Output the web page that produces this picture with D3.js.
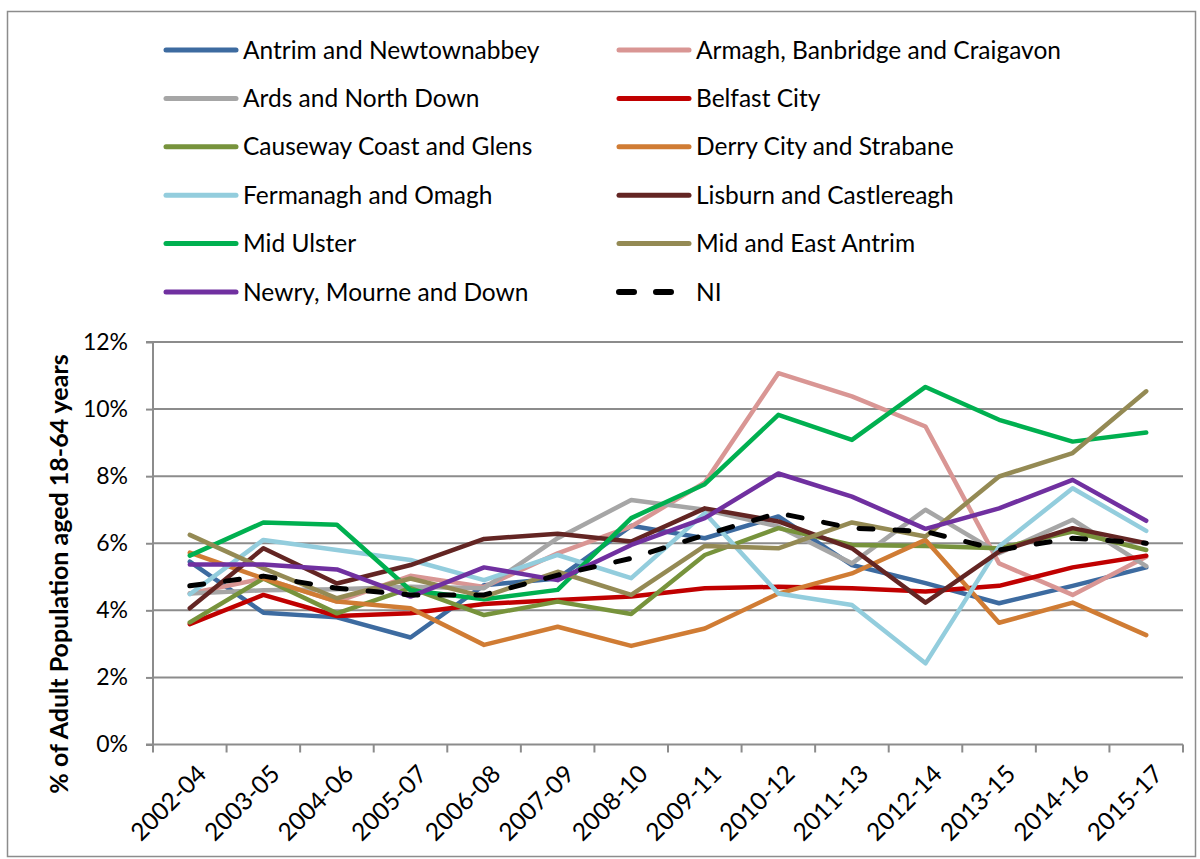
<!DOCTYPE html>
<html><head><meta charset="utf-8">
<script src="https://cdn.jsdelivr.net/npm/d3@7"></script>
<style>body{margin:0;background:#fff}svg{display:block}text{font-family:Lato,"Open Sans",sans-serif}</style>
</head><body><svg id="c" width="1200" height="859"></svg>
<script>
const categories = ["2002-04","2003-05","2004-06","2005-07","2006-08","2007-09","2008-10","2009-11","2010-12","2011-13","2012-14","2013-15","2014-16","2015-17"];
const seriesNames = ["Antrim and Newtownabbey","Armagh, Banbridge and Craigavon","Ards and North Down","Belfast City","Causeway Coast and Glens","Derry City and Strabane","Fermanagh and Omagh","Lisburn and Castlereagh","Mid Ulster","Mid and East Antrim","Newry, Mourne and Down","NI"];
const antrim    = [5.45,3.93,3.79,3.19,4.75,4.95,6.52,6.15,6.80,5.35,4.81,4.21,4.73,5.28];
const armagh    = [4.50,4.95,4.26,5.03,4.70,5.70,6.50,7.81,11.07,10.38,9.48,5.40,4.46,5.60];
const ards      = [4.50,4.60,4.63,4.70,4.66,6.15,7.29,7.00,6.50,5.40,7.00,5.70,6.70,5.32];
const belfast   = [3.59,4.46,3.83,3.91,4.19,4.31,4.41,4.66,4.70,4.66,4.56,4.73,5.28,5.63];
const causeway  = [3.64,4.95,3.91,4.66,3.86,4.26,3.89,5.65,6.45,5.95,5.92,5.85,6.35,5.80];
const derry     = [5.72,4.95,4.26,4.06,2.97,3.51,2.94,3.46,4.50,5.10,6.10,3.63,4.23,3.26];
const fermanagh = [4.48,6.10,5.80,5.50,4.90,5.65,4.96,6.90,4.50,4.16,2.42,5.90,7.64,6.37];
const lisburn   = [4.06,5.85,4.80,5.35,6.13,6.28,6.05,7.04,6.65,5.85,4.23,5.75,6.45,6.00];
const midUlster = [5.63,6.62,6.55,4.60,4.33,4.61,6.75,7.76,9.83,9.08,10.66,9.68,9.03,9.30];
const midEast   = [6.25,5.25,4.36,4.95,4.41,5.15,4.46,5.92,5.85,6.62,6.20,7.99,8.69,10.53];
const newry     = [5.37,5.37,5.22,4.41,5.28,4.90,5.95,6.75,8.08,7.39,6.43,7.04,7.89,6.67];
const ni        = [4.73,5.02,4.66,4.46,4.46,5.05,5.55,6.25,6.90,6.45,6.35,5.80,6.15,6.00];
const seriesValues = [antrim,armagh,ards,belfast,causeway,derry,fermanagh,lisburn,midUlster,midEast,newry,ni];
const seriesColors = ["#3d6ba0","#d99694","#a6a6a6","#c00000","#77933c","#d07c34","#93cddd","#632523","#00b050","#948a54","#7030a0","#000000"];
const yTicks = [0,2,4,6,8,10,12];
const yTitle = "% of Adult Population aged 18-64 years";

const svg = d3.select("#c");
const L=153, R=1183, T=342, B=744.5;
const x = d3.scaleBand().domain(categories).range([L,R]);
const y = d3.scaleLinear().domain([0,12]).range([B,T]);

svg.append("rect").attr("x",7.5).attr("y",11.5).attr("width",1188).attr("height",845)
  .attr("fill","none").attr("stroke","#8c8c8c").attr("stroke-width",1.5);

// gridlines
svg.append("g").selectAll("line").data(yTicks.filter(d=>d>0)).join("line")
  .attr("x1",L).attr("x2",R).attr("y1",d=>y(d)).attr("y2",d=>y(d))
  .attr("stroke","#8c8c8c").attr("stroke-width",2);

// y axis
const ya = svg.append("g").attr("transform",`translate(${L},0)`)
  .call(d3.axisLeft(y).tickValues(yTicks).tickSize(7).tickPadding(8).tickFormat(d=>d+"%"));
ya.select(".domain").attr("stroke","#8c8c8c").attr("stroke-width",2).attr("d",`M-7,${B}H0V${T}H-7`);
ya.selectAll(".tick line").attr("stroke","#8c8c8c").attr("stroke-width",2);
ya.selectAll(".tick text").attr("font-size",23).attr("fill","#000").attr("font-family","Lato,sans-serif").attr("dx",-10);

// x axis
const xa = svg.append("g").attr("transform",`translate(0,${B})`);
xa.append("line").attr("x1",L).attr("x2",R).attr("stroke","#8c8c8c").attr("stroke-width",2);
const bounds = categories.map(c=>x(c)).concat([R]);
xa.selectAll("line.t").data(bounds).join("line").attr("class","t")
  .attr("x1",d=>d).attr("x2",d=>d).attr("y1",0).attr("y2",8).attr("stroke","#8c8c8c").attr("stroke-width",2);
xa.selectAll("text").data(categories).join("text")
  .attr("transform",d=>`translate(${x(d)+x.bandwidth()/2+12},${25}) rotate(-45)`)
  .attr("text-anchor","end").attr("font-size",24.5).attr("dy","0.35em").text(d=>d);

// y title
svg.append("text").attr("transform",`translate(68,${574}) rotate(-90)`)
  .attr("text-anchor","middle").attr("font-size",25).attr("font-weight","bold").text(yTitle);

// lines
const line = d3.line().x((d,i)=>x(categories[i])+x.bandwidth()/2).y(d=>y(d));
seriesValues.forEach((vals,i)=>{
  const p = svg.append("path").datum(vals).attr("d",line).attr("fill","none")
    .attr("stroke",seriesColors[i]).attr("stroke-width",i===11?5:4.5).attr("stroke-linejoin","round").attr("stroke-linecap","round");
  if(i===11) p.attr("stroke-dasharray","14,22");
});

// legend
const leg = svg.append("g");
seriesNames.forEach((n,i)=>{
  const col = i%2, row = Math.floor(i/2);
  const lx = col===0?166:619, ly = 50 + row*48.4;
  const g = leg.append("g");
  const l = g.append("line").attr("x1",lx).attr("x2",lx+70).attr("y1",ly).attr("y2",ly)
    .attr("stroke",seriesColors[i]).attr("stroke-width",i===11?6:5).attr("stroke-linecap","round");
  if(i===11) l.attr("stroke-dasharray","15,22");
  g.append("text").attr("x",lx+77).attr("y",ly).attr("dy","0.35em").attr("font-size",24.5).text(n);
});
</script></body></html>
